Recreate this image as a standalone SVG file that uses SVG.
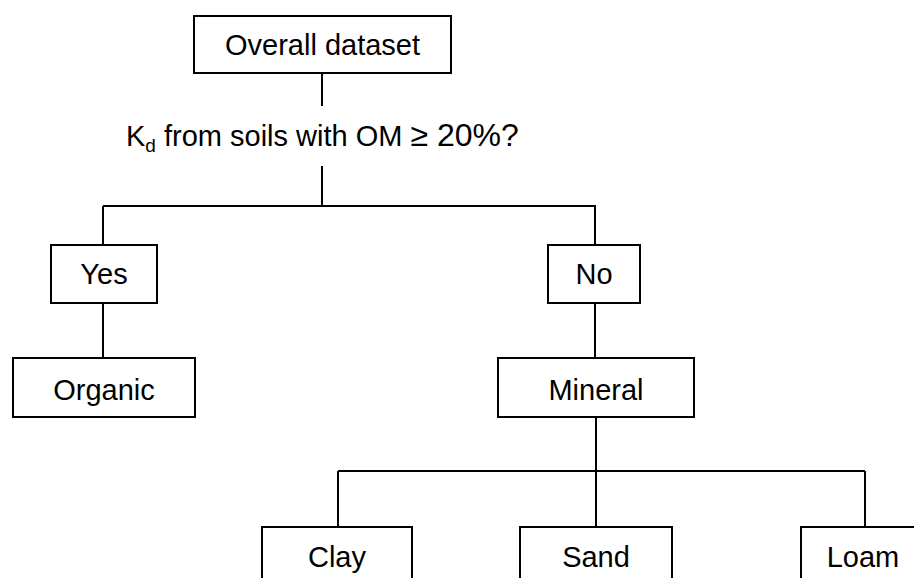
<svg xmlns="http://www.w3.org/2000/svg" width="914" height="578" viewBox="0 0 914 578">
  <style>
    .box { fill: #fff; stroke: #000; stroke-width: 2; }
    .lbl { font-family: "Liberation Sans", Arial, sans-serif; font-size: 29px; fill: #000; text-anchor: middle; }
    .wire { fill: none; stroke: #000; stroke-width: 2; }
  </style>
  <rect width="914" height="578" fill="#fff"/>

  <g id="connectors">
    <path class="wire" d="M322 73 V106"/>
    <path class="wire" d="M322 166 V206"/>
    <path class="wire" d="M103 206 H596"/>
    <path class="wire" d="M103 206 V245"/>
    <path class="wire" d="M103 303 V358"/>
    <path class="wire" d="M595 206 V245"/>
    <path class="wire" d="M595 303 V358"/>
    <path class="wire" d="M596 417 V471"/>
    <path class="wire" d="M338 471 H865"/>
    <path class="wire" d="M338 471 V527"/>
    <path class="wire" d="M596 471 V527"/>
    <path class="wire" d="M865 471 V527"/>
  </g>

  <g id="overall">
    <rect class="box" x="194" y="16" width="257" height="57"/>
    <text class="lbl" x="322.5" y="55">Overall dataset</text>
  </g>

  <g id="question">
    <text x="126" y="146" style="font-family:'Liberation Sans',Arial,sans-serif;font-size:29px;fill:#000">K<tspan font-size="19" dy="6">d</tspan><tspan dy="-6"> from soils with OM </tspan><tspan font-size="32">≥ 20%?</tspan></text>
  </g>

  <g id="yes">
    <rect class="box" x="51" y="245" width="106" height="58"/>
    <text class="lbl" x="104" y="284">Yes</text>
  </g>

  <g id="no">
    <rect class="box" x="548" y="245" width="92" height="58"/>
    <text class="lbl" x="594" y="284">No</text>
  </g>

  <g id="organic">
    <rect class="box" x="13" y="358" width="182" height="59"/>
    <text class="lbl" x="104" y="400">Organic</text>
  </g>

  <g id="mineral">
    <rect class="box" x="498" y="358" width="196" height="59"/>
    <text class="lbl" x="596" y="400">Mineral</text>
  </g>

  <g id="clay">
    <rect class="box" x="262" y="527" width="150" height="80"/>
    <text class="lbl" x="337" y="567">Clay</text>
  </g>

  <g id="sand">
    <rect class="box" x="520" y="527" width="152" height="80"/>
    <text class="lbl" x="596" y="567">Sand</text>
  </g>

  <g id="loam">
    <rect class="box" x="801" y="527" width="140" height="80"/>
    <text class="lbl" x="863" y="567">Loam</text>
  </g>
</svg>
